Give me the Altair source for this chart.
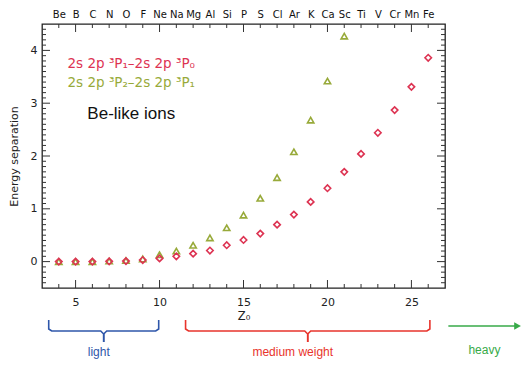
import altair as alt
import pandas as pd

# ---------------- data ----------------
Z_A = list(range(4, 27))
E_A = [0.0, 0.0, 0.0, 0.005, 0.01, 0.03, 0.06, 0.10, 0.15, 0.21, 0.31, 0.41,
       0.53, 0.70, 0.89, 1.13, 1.39, 1.70, 2.04, 2.44, 2.87, 3.31, 3.86]
Z_B = list(range(4, 22))
E_B = [0.0, 0.0, 0.0, 0.01, 0.02, 0.05, 0.13, 0.20, 0.31, 0.45, 0.64, 0.88,
       1.20, 1.59, 2.08, 2.68, 3.42, 4.27]
ELEMENTS = ["Be", "B", "C", "N", "O", "F", "Ne", "Na", "Mg", "Al", "Si", "P",
            "S", "Cl", "Ar", "K", "Ca", "Sc", "Ti", "V", "Cr", "Mn", "Fe"]
ELEM_Z = list(range(4, 27))
X_TICKS = [5, 10, 15, 20, 25]
Y_TICKS = [0, 1, 2, 3, 4]
LABEL_A = "2s 2p \u00b3P\u2081\u20132s 2p \u00b3P\u2080"
LABEL_B = "2s 2p \u00b3P\u2082\u20132s 2p \u00b3P\u2081"
NOTE = "Be-like ions"
GROUPS = ["light", "medium weight", "heavy"]
GROUP_SPANS = [(3.4, 9.95), (11.55, 26.1), (27.2, 31.5)]

# ---------------- geometry / style ----------------
W, H = 403, 264
XD = [3, 27]
YD = [-0.5, 4.5]
kx = W / (XD[1] - XD[0])
ky = H / (YD[1] - YD[0])
def dx(p):
    return p / kx
def dy(p):
    return p / ky

RED = "#dd3352"
GREEN = "#98aa3a"
FONT = "DejaVu Sans"
GCOL = {"light": "#2f57aa", "medium weight": "#e8342c", "heavy": "#37aa48"}

xs = alt.Scale(domain=XD, nice=False, zero=False)
ys = alt.Scale(domain=YD, nice=False, zero=False)

bottom_axis = alt.Axis(values=X_TICKS, ticks=False, domain=False, grid=False,
                       labelPadding=8, title="Z\u2080", titlePadding=3,
                       labelFont=FONT, labelFontSize=11, labelColor="#222",
                       titleFont=FONT, titleFontSize=11.5, titleFontWeight="normal",
                       titleColor="#222", format="d")
left_axis = alt.Axis(values=Y_TICKS, ticks=False, domain=False, grid=False,
                     labelPadding=5, title="Energy separation", titlePadding=11,
                     labelFont=FONT, labelFontSize=11, labelColor="#222",
                     titleFont=FONT, titleFontSize=11, titleFontWeight="normal",
                     titleColor="#222", format="d")

def X(f):
    return alt.X(f, scale=xs, axis=bottom_axis)
def Y(f):
    return alt.Y(f, scale=ys, axis=left_axis)

# ---------------- points ----------------
dfA = pd.DataFrame({"Z": Z_A, "E": E_A})
dfB = pd.DataFrame({"Z": Z_B, "E": E_B})

ptsB = alt.Chart(dfB).mark_point(shape="triangle-up", filled=False, color=GREEN,
                                 strokeWidth=1.6, size=40, opacity=1).encode(
    x=X("Z:Q"), y=Y("E:Q"))
ptsA = alt.Chart(dfA).mark_point(shape="diamond", filled=False, color=RED,
                                 strokeWidth=1.6, size=42, opacity=1).encode(
    x=X("Z:Q"), y=Y("E:Q"))

# ---------------- inward ticks ----------------
MAJ, MIN = 8, 4
xminor = [z for z in range(4, 27) if z not in X_TICKS]
yminor = [round(-0.4 + 0.1 * i, 1) for i in range(0, 49)]
yminor = [v for v in yminor if abs(v - round(v)) > 1e-6]

vt = []
for x in X_TICKS + xminor:
    L = MAJ if x in X_TICKS else MIN
    vt.append({"x": x, "y1": YD[0], "y2": YD[0] + dy(L)})
    vt.append({"x": x, "y1": YD[1], "y2": YD[1] - dy(L)})
ht = []
for y in Y_TICKS + yminor:
    L = MAJ if y in Y_TICKS else MIN
    ht.append({"y": y, "x1": XD[0], "x2": XD[0] + dx(L)})
    ht.append({"y": y, "x1": XD[1], "x2": XD[1] - dx(L)})

vticks = alt.Chart(pd.DataFrame(vt)).mark_rule(color="#333", strokeWidth=1).encode(
    x=X("x:Q"), y=Y("y1:Q"), y2="y2:Q")
hticks = alt.Chart(pd.DataFrame(ht)).mark_rule(color="#333", strokeWidth=1).encode(
    x=X("x1:Q"), x2="x2:Q", y=Y("y:Q"))

# ---------------- legend texts ----------------
leg = pd.DataFrame({
    "x": [4.52, 4.52],
    "y": [3.74, 3.39],
    "t": [LABEL_A, LABEL_B],
    "c": [RED, GREEN]})
legend_txt = alt.Chart(leg).mark_text(align="left", baseline="middle", font=FONT,
                                      fontSize=13.5).encode(
    x=X("x:Q"), y=Y("y:Q"), text="t:N", color=alt.Color("c:N", scale=None))
note = alt.Chart(pd.DataFrame({"x": [5.7], "y": [2.80], "t": [NOTE]})).mark_text(
    align="left", baseline="middle", font="Liberation Sans", fontSize=17,
    color="#111").encode(x=X("x:Q"), y=Y("y:Q"), text="t:N")

# ---------------- group braces below the axis ----------------
y_top = YD[0] - dy(32)
y_mid = YD[0] - dy(43)
y_tip = YD[0] - dy(54)
rows = []
for g, (a, b) in zip(GROUPS[:2], GROUP_SPANS[:2]):
    c = (a + b) / 2
    for side, x0, s in (("L", a, 1), ("R", b, -1)):
        pts = [(x0, y_top), (x0, y_mid + dy(2)), (x0 + s * dx(3), y_mid),
               (c - s * dx(3), y_mid), (c, y_mid - dy(3)), (c, y_tip)]
        for i, (px, py) in enumerate(pts):
            rows.append({"x": px, "y": py, "k": g + side, "o": i, "g": g})
ga, gb = GROUP_SPANS[2]
y_arr = YD[0] - dy(38)
rows.append({"x": ga, "y": y_arr, "k": "heavy", "o": 0, "g": "heavy"})
rows.append({"x": gb - dx(5), "y": y_arr, "k": "heavy", "o": 1, "g": "heavy"})
gscale = alt.Scale(domain=list(GCOL), range=list(GCOL.values()))
braces = alt.Chart(pd.DataFrame(rows)).mark_line(strokeWidth=1.6).encode(
    x=X("x:Q"), y=Y("y:Q"), detail="k:N", order="o:Q",
    color=alt.Color("g:N", scale=gscale, legend=None))
head = alt.Chart(pd.DataFrame({"x": [gb - dx(3)], "y": [y_arr]})).mark_point(
    shape="triangle-right", filled=True, size=60, color=GCOL["heavy"], opacity=1).encode(
    x=X("x:Q"), y=Y("y:Q"))

gt = pd.DataFrame({
    "x": [(GROUP_SPANS[0][0] + GROUP_SPANS[0][1]) / 2 - dx(5),
          (GROUP_SPANS[1][0] + GROUP_SPANS[1][1]) / 2 - dx(15),
          (ga + gb) / 2],
    "y": [YD[0] - dy(64), YD[0] - dy(64), YD[0] - dy(62)],
    "t": GROUPS,
    "g": GROUPS})
gtxt = alt.Chart(gt).mark_text(align="center", baseline="middle",
                               font="Liberation Sans", fontSize=12).encode(
    x=X("x:Q"), y=Y("y:Q"), text="t:N",
    color=alt.Color("g:N", scale=gscale, legend=None))

# ---------------- top element axis ----------------
expr = "[" + ",".join("'%s'" % e for e in ELEMENTS) + "][datum.value - %d]" % ELEM_Z[0]
top_axis = alt.Axis(orient="top", values=ELEM_Z, labelExpr=expr, ticks=False,
                    domain=False, grid=False, labelPadding=5, title=None,
                    labelFont=FONT, labelFontSize=10, labelColor="#111",
                    labelOverlap=False)
topdf = pd.DataFrame({"x": ELEM_Z, "y": [YD[1]] * len(ELEM_Z)})
top_layer = alt.Chart(topdf).mark_point(opacity=0).encode(
    x=alt.X("x:Q", scale=xs, axis=top_axis),
    y=Y("y:Q"))

main = alt.layer(vticks, hticks, ptsB, ptsA, legend_txt, note, braces, head, gtxt)

chart = alt.layer(main, top_layer).resolve_scale(x="independent").properties(
    width=W, height=H, autosize="none",
    padding={"left": 42, "top": 24, "right": 77, "bottom": 77},
).configure_view(stroke="#222", strokeWidth=1.3).configure_axis(grid=False)

chart.save("out.html", embed_options={"renderer": "svg", "actions": False})
